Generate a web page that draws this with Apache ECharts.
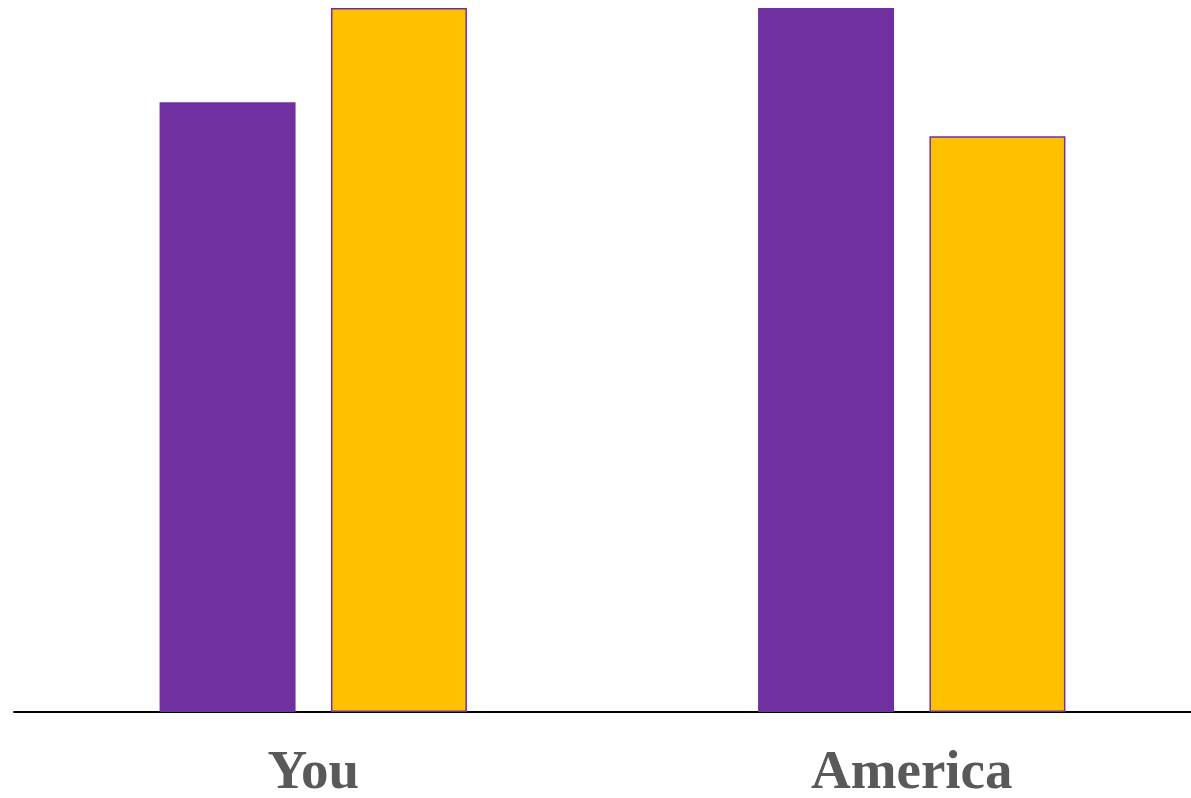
<!DOCTYPE html>
<html>
<head>
<meta charset="utf-8">
<script src="https://cdn.jsdelivr.net/npm/echarts@6/dist/echarts.min.js"></script>
<style>
  html, body { margin: 0; padding: 0; background: #ffffff; }
  #chart { width: 1191px; height: 798px; }
</style>
</head>
<body>
<div id="chart"></div>
<script>
// Grouped comparison: two groups, two measures each
const categories = ['You', 'America'];
const purpleValues = [86.6, 100];
const goldValues = [100, 81.8];

const chart = echarts.init(document.getElementById('chart'), null, { renderer: 'canvas' });

chart.setOption({
  animation: false,
  backgroundColor: '#ffffff',
  grid: {
    left: 14, width: 1197, top: 8, bottom: 86,
    containLabel: false,
    outerBoundsMode: 'none'
  },
  xAxis: {
    type: 'category',
    data: categories,
    axisLine: { show: true, lineStyle: { color: '#000000', width: 2 } },
    axisTick: { show: false },
    axisLabel: {
      color: '#595959',
      fontFamily: 'Liberation Serif',
      fontWeight: 'bold',
      fontSize: 55,
      margin: 34
    }
  },
  yAxis: {
    type: 'value',
    min: 0,
    max: 100,
    show: false,
    splitLine: { show: false }
  },
  series: [
    {
      type: 'bar',
      data: purpleValues,
      barWidth: 136,
      barGap: '26%',
      itemStyle: { color: '#7030A0' }
    },
    {
      type: 'bar',
      data: goldValues,
      barWidth: 136,
      barGap: '26%',
      itemStyle: { color: '#FFC000', borderColor: '#7030A0', borderWidth: 1.5 }
    }
  ]
});
</script>
</body>
</html>
